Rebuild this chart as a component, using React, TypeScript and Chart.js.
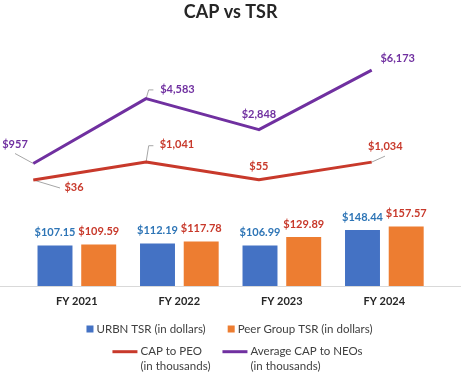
import React, { useEffect, useRef } from 'react';
import { Chart, registerables } from 'chart.js';

Chart.register(...registerables);

// ---- data ----
const title = 'CAP vs TSR';
const categories = ['FY 2021', 'FY 2022', 'FY 2023', 'FY 2024'];
const urbnTsr = [107.15, 112.19, 106.99, 148.44];
const peerTsr = [109.59, 117.78, 129.89, 157.57];
const capToPeo = [36, 1041, 55, 1034];
const avgCapToNeos = [957, 4583, 2848, 6173];
const barSeriesLabels = ['URBN TSR (in dollars)', 'Peer Group TSR (in dollars)'];
const lineSeriesLabels = [
  ['CAP to PEO', '(in thousands)'],
  ['Average CAP to NEOs', '(in thousands)'],
];

// ---- styles / layout constants ----
const BLUE = '#4472C4';
const ORANGE = '#ED7D31';
const BLUE_TEXT = '#2E75B6';
const RED = '#C8392B';
const PURPLE = '#7030A0';
const LEADER = '#A6A6A6';
const FONT = 'Lato';
const BAR_THICKNESS = 34.3;
const GROUP_SHIFT = 0.2132; // half of a bar slot, in category units
const LINE_X_RANGE = { min: -0.0683, max: 3.5665 }; // secondary horizontal axis of the lines

// label placement relative to each line point (offset of text centre, leader polyline)
const peoPlacement = [
  { dx: 40.7, dy: 7.3, leader: [[26.7, 8]] },
  { dx: 30.8, dy: -17.7, leader: [[2.6, -16.3], [7.3, -16.3]] },
  { dx: 0, dy: -13.3, leader: [] },
  { dx: 13.6, dy: -16, leader: [[13.3, -6]] },
];
const neoPlacement = [
  { dx: -18.3, dy: -19, leader: [[-18.3, -10]] },
  { dx: 31.3, dy: -9.4, leader: [[2.6, -8.7], [7.3, -8.7]] },
  { dx: 0, dy: -15.3, leader: [] },
  { dx: 26, dy: -11.7, leader: [] },
];

const fmtBar = (v: number) => '$' + v.toFixed(2);
const fmtLine = (v: number) => '$' + v.toLocaleString('en-US');

const overlayPlugin = {
  id: 'overlay',
  beforeDatasetsDraw(chart: any) {
    const ctx = chart.ctx;
    const y0 = Math.round(chart.scales.y.getPixelForValue(0)) + 0.5;
    ctx.save();
    ctx.strokeStyle = '#D9D9D9';
    ctx.lineWidth = 1;
    ctx.beginPath();
    ctx.moveTo(0, y0);
    ctx.lineTo(chart.width, y0);
    ctx.stroke();
    ctx.strokeStyle = LEADER;
    ctx.lineWidth = 1;
    [[2, peoPlacement], [3, neoPlacement]].forEach(([di, pl]: any) => {
      const meta = chart.getDatasetMeta(di);
      meta.data.forEach((pt: any, i: number) => {
        const p = pl[i];
        if (!p.leader.length) return;
        ctx.beginPath();
        ctx.moveTo(pt.x, pt.y);
        p.leader.forEach(([lx, ly]: number[]) => ctx.lineTo(pt.x + lx, pt.y + ly));
        ctx.stroke();
      });
    });
    ctx.restore();
  },
  afterDatasetsDraw(chart: any) {
    const ctx = chart.ctx;
    ctx.save();
    ctx.font = `bold 11px ${FONT}`;
    ctx.textAlign = 'center';
    ctx.textBaseline = 'middle';
    const barColors = [BLUE_TEXT, RED];
    [0, 1].forEach((di) => {
      const meta = chart.getDatasetMeta(di);
      const vals = chart.data.datasets[di].data;
      ctx.fillStyle = barColors[di];
      meta.data.forEach((bar: any, i: number) => {
        ctx.fillText(fmtBar(vals[i].y), bar.x, bar.y - 13);
      });
    });
    [[2, peoPlacement, RED], [3, neoPlacement, PURPLE]].forEach(([di, pl, col]: any) => {
      const meta = chart.getDatasetMeta(di);
      const vals = chart.data.datasets[di].data;
      ctx.fillStyle = col;
      meta.data.forEach((pt: any, i: number) => {
        ctx.fillText(fmtLine(vals[i].y), pt.x + pl[i].dx, pt.y + pl[i].dy);
      });
    });
    ctx.restore();
  },
  afterDraw(chart: any) {
    const ctx = chart.ctx;
    const bottom = chart.chartArea.bottom;
    const cx = chart.width / 2;
    ctx.save();
    ctx.font = `11.5px ${FONT}`;
    ctx.fillStyle = '#404040';
    ctx.textBaseline = 'middle';
    ctx.textAlign = 'left';
    const ds = chart.data.datasets;
    const box = 7, boxGap = 3, itemGap = 22;
    const w0 = ctx.measureText(ds[0].label).width;
    const w1 = ctx.measureText(ds[1].label).width;
    const row1W = box + boxGap + w0 + itemGap + box + boxGap + w1;
    let x = cx - row1W / 2 - 1;
    const y1 = bottom + 43;
    ctx.fillStyle = ds[0].backgroundColor;
    ctx.fillRect(x, y1 - box / 2, box, box);
    ctx.fillStyle = '#404040';
    ctx.fillText(ds[0].label, x + box + boxGap, y1);
    x += box + boxGap + w0 + itemGap;
    ctx.fillStyle = ds[1].backgroundColor;
    ctx.fillRect(x, y1 - box / 2, box, box);
    ctx.fillStyle = '#404040';
    ctx.fillText(ds[1].label, x + box + boxGap, y1);
    const lineLen = 25, lineGap = 3, gap2 = 12;
    const lw = lineSeriesLabels.map((lines) => Math.max(...lines.map((t) => ctx.measureText(t).width)));
    const row2W = lineLen + lineGap + lw[0] + gap2 + lineLen + lineGap + lw[1];
    x = cx - row2W / 2 + 7;
    const y2 = bottom + 65.7;
    [2, 3].forEach((di, k) => {
      ctx.strokeStyle = ds[di].borderColor;
      ctx.lineWidth = 3;
      ctx.beginPath();
      ctx.moveTo(x, y2);
      ctx.lineTo(x + lineLen, y2);
      ctx.stroke();
      ctx.fillStyle = '#404040';
      lineSeriesLabels[k].forEach((t, j) => ctx.fillText(t, x + lineLen + lineGap, y2 + j * 14.3));
      x += lineLen + lineGap + lw[k] + gap2;
    });
    ctx.restore();
  },
};

export default function App() {
  const ref = useRef<HTMLCanvasElement | null>(null);
  useEffect(() => {
    if (!ref.current) return;
    Chart.defaults.font.family = FONT;
    const n = categories.length;
    const barDataset = (label: string, values: number[], color: string, axis: string) => ({
      type: 'bar',
      label,
      data: values.map((v, i) => ({ x: i, y: v })),
      backgroundColor: color,
      grouped: false,
      barThickness: BAR_THICKNESS,
      xAxisID: axis,
      yAxisID: 'y',
    });
    const lineDataset = (label: string, values: number[], color: string) => ({
      type: 'line',
      label,
      data: values.map((v, i) => ({ x: i, y: v })),
      borderColor: color,
      backgroundColor: color,
      borderWidth: 3,
      pointRadius: 0,
      tension: 0,
      borderJoinStyle: 'round',
      xAxisID: 'xLine',
      yAxisID: 'y2',
    });
    const chart = new Chart(ref.current, {
      type: 'line',
      data: {
        labels: categories,
        datasets: [
          barDataset(barSeriesLabels[0], urbnTsr, BLUE, 'xA'),
          barDataset(barSeriesLabels[1], peerTsr, ORANGE, 'xB'),
          lineDataset(lineSeriesLabels[0].join(' '), capToPeo, RED),
          lineDataset(lineSeriesLabels[1].join(' '), avgCapToNeos, PURPLE),
        ] as any,
      },
      options: {
        responsive: false,
        animation: false,
        devicePixelRatio: 1,
        layout: { padding: { left: 25.6, right: 25.4, top: 0, bottom: 56.8 } },
        plugins: {
          legend: { display: false },
          tooltip: { enabled: false },
          title: {
            display: true,
            text: title,
            color: '#262626',
            font: { family: FONT, size: 18, weight: 'bold' },
            padding: { top: 1, bottom: 17.4 },
          },
        },
        scales: {
          x: {
            type: 'category',
            offset: true,
            grid: { display: false, drawTicks: false, offset: true },
            border: { display: false },
            ticks: { color: '#262626', font: { family: FONT, size: 11, weight: 'bold' }, padding: 9 },
          },
          xA: { type: 'linear', display: false, offset: false, min: -0.5 + GROUP_SHIFT, max: n - 0.5 + GROUP_SHIFT },
          xB: { type: 'linear', display: false, offset: false, min: -0.5 - GROUP_SHIFT, max: n - 0.5 - GROUP_SHIFT },
          xLine: { type: 'linear', display: false, offset: false, ...LINE_X_RANGE },
          y: { display: false, min: 0, max: 655 },
          y2: { display: false, min: -5886, max: 7857 },
        },
      } as any,
      plugins: [overlayPlugin],
    });
    return () => chart.destroy();
  }, []);
  return (
    <div style={{ position: 'fixed', left: 0, top: 0, width: 461, height: 374, background: '#fff' }}>
      <canvas ref={ref} width={461} height={374} style={{ display: 'block' }} />
    </div>
  );
}
